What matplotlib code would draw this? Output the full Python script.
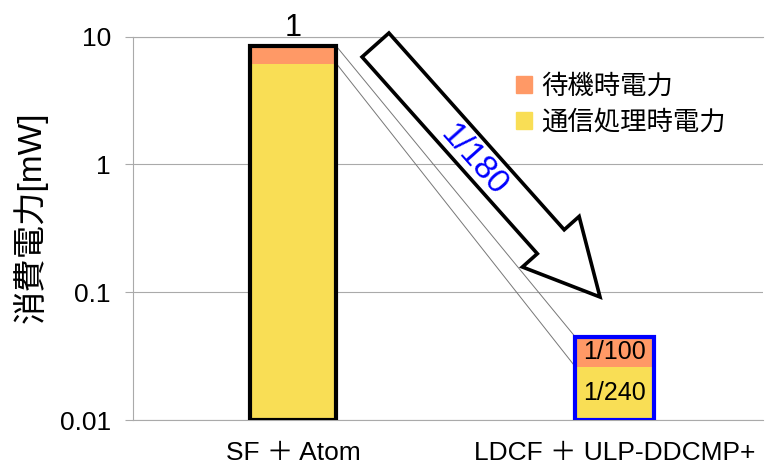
import numpy as np
import matplotlib
matplotlib.use("Agg")
import matplotlib.pyplot as plt
from matplotlib.patches import FancyArrowPatch, Patch

plt.rcParams["font.family"] = ["Liberation Sans", "Noto Sans CJK JP"]

# data [mW]
categories = ["SF ＋ Atom", "LDCF ＋ ULP-DDCMP+"]
comm_power = [6.15, 0.026]       # 通信処理時電力
standby_power = [2.25, 0.0185]   # 待機時電力
standby_ratio = ["", "1/100"]
comm_ratio = ["", "1/240"]
total_ratio = ["1", ""]
reduction_text = "1/180"
yticks = [0.01, 0.1, 1, 10]
ytick_labels = ["0.01", "0.1", "1", "10"]

c_standby = "#FF9966"
c_comm = "#F9DE55"
edge_colors = ["black", "#0000FF"]
bar_widths = [0.27, 0.245]

fig = plt.figure(figsize=(7.65, 4.65), dpi=100)
ax = fig.add_axes([133 / 765, 45 / 465, 630 / 765, 383.3 / 465])
ax.set_yscale("log")
ax.set_ylim(0.01, 10)
ax.set_xlim(-0.497, 1.46)

x = np.arange(len(categories))
comm = np.array(comm_power)
standby = np.array(standby_power)
total = comm + standby
base = 0.01

# stacked bars, outline drawn separately so no line sits between segments
ax.bar(x, comm - base, bottom=base, width=bar_widths, color=c_comm,
       linewidth=0, zorder=3)
ax.bar(x, standby, bottom=comm, width=bar_widths, color=c_standby,
       linewidth=0, zorder=3)
ax.bar(x, total - base, bottom=base, width=bar_widths, fill=False,
       edgecolor=edge_colors, linewidth=3, zorder=4)

# thin connector lines between the two bars
x_from = x[0] + bar_widths[0] / 2
x_to = x[1] - bar_widths[1] / 2
ax.plot([x_from, x_to], [total[0], total[1]], color="#777777", lw=0.7, zorder=2)
ax.plot([x_from, x_to], [comm[0], comm[1]], color="#777777", lw=0.7, zorder=2)

# bar labels
for i in range(len(categories)):
    if total_ratio[i]:
        ax.annotate(total_ratio[i], (x[i], total[i]), xytext=(0, 7.5),
                    textcoords="offset points", ha="center", va="baseline",
                    fontsize=22, annotation_clip=False)
    if standby_ratio[i]:
        ax.text(x[i], np.sqrt(comm[i] * total[i]), standby_ratio[i],
                ha="center", va="center", fontsize=18, zorder=5)
    if comm_ratio[i]:
        ax.text(x[i], np.sqrt(base * comm[i]), comm_ratio[i],
                ha="center", va="center", fontsize=18, zorder=5)

# axes styling
ax.set_yticks(yticks, ytick_labels)
ax.yaxis.set_minor_locator(matplotlib.ticker.NullLocator())
ax.set_xticks(x, categories)
ax.tick_params(axis="y", length=6, color="#aaaaaa", labelsize=19, pad=10)
ax.tick_params(axis="x", length=0, labelsize=19, pad=15)
ax.grid(axis="y", color="#aaaaaa", lw=0.8, zorder=0)
ax.set_axisbelow(True)
for side in ["left", "top", "bottom"]:
    ax.spines[side].set_color("#aaaaaa")
    ax.spines[side].set_linewidth(0.8)
ax.spines["right"].set_visible(False)

ax.set_ylabel("消費電力[mW]", fontsize=24)
ax.yaxis.set_label_coords(-0.135, 0.53)

# legend
handles = [Patch(color=c_standby, label="待機時電力"),
           Patch(color=c_comm, label="通信処理時電力")]
fig.legend(handles=handles, loc="upper left", bbox_to_anchor=(516 / 765, 1 - 74 / 465),
           frameon=False, fontsize=19, handlelength=0.6, handleheight=0.6,
           handletextpad=0.35, labelspacing=0.42, borderpad=0, borderaxespad=0)

# big hollow arrow showing the reduction
px = lambda a, b: (a / 765, 1 - b / 465)
arrow = FancyArrowPatch(px(375.5, 45), px(600, 297), transform=fig.transFigure,
                        arrowstyle="simple,head_length=53.3,head_width=54.7,tail_width=25.9",
                        mutation_scale=1, shrinkA=0, shrinkB=0,
                        facecolor="white", edgecolor="black", linewidth=2.6,
                        joinstyle="miter", zorder=6)
fig.add_artist(arrow)
fig.text(*px(474, 160), reduction_text, color="#0000FF", fontsize=24,
         rotation=-48.3, rotation_mode="anchor", ha="center", va="center", zorder=7)

fig.savefig("out.png", dpi=100)
